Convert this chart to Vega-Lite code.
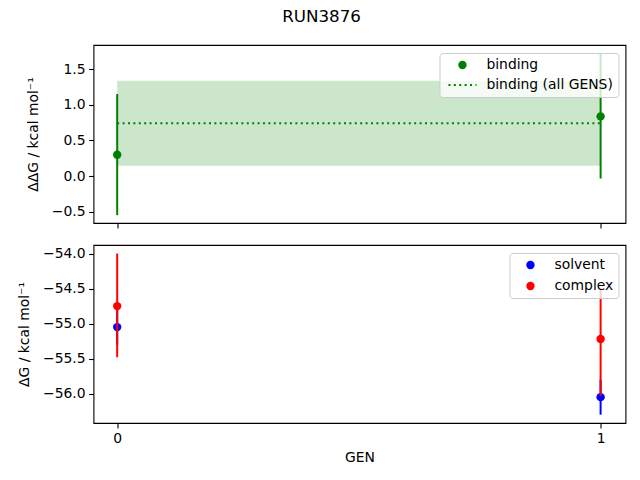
{
  "$schema": "https://vega.github.io/schema/vega-lite/v6.json",
  "padding": {"left": 16.5, "top": 8, "right": 9, "bottom": 5},
  "title": {"text": "RUN3876", "anchor": "middle", "frame": "bounds", "fontSize": 16.7, "fontWeight": "normal", "font": "DejaVu Sans", "color": "black", "offset": 19},
  "config": {
    "font": "DejaVu Sans",
    "view": {"stroke": "black", "strokeWidth": 1.1},
    "axis": {
      "grid": false, "domain": false, "tickColor": "black", "tickSize": 4.9, "tickWidth": 1.1,
      "labelFontSize": 13.9, "labelColor": "black", "labelPadding": 3.5,
      "titleFontSize": 13.9, "titleFontWeight": "normal", "titleColor": "black", "titlePadding": 11
    },
    "legend": {"labelFontSize": 13.9, "labelColor": "black", "labelFont": "DejaVu Sans"}
  },
  "spacing": 15,
  "resolve": {"scale": {"color": "independent"}, "legend": {"color": "independent"}},
  "vconcat": [
    {
      "width": 532,
      "height": 178,
      "encoding": {
        "x": {
          "field": "gen", "type": "quantitative",
          "scale": {"domain": [-0.049, 1.0515], "nice": false, "zero": false},
          "axis": {"values": [0, 1], "labels": false, "title": null}
        },
        "color": {
          "field": "series", "type": "nominal",
          "scale": {"domain": ["binding", "binding (all GENS)"], "range": ["green", "green"]},
          "legend": {
            "title": null, "orient": "top-right", "offset": 7.5,
            "fillColor": "rgba(255,255,255,0.8)", "strokeColor": "#cccccc", "cornerRadius": 3,
            "padding": 5, "rowPadding": 5, "symbolSize": 100, "symbolOffset": 11, "labelOffset": 17,
            "encode": {"symbols": {"update": {
              "shape": {"signal": "datum.value === 'binding' ? 'circle' : 'M-2.8,0H2.8'"},
              "size": {"signal": "datum.value === 'binding' ? 70 : 100"},
              "fill": {"signal": "datum.value === 'binding' ? 'green' : 'transparent'"},
              "stroke": {"value": "green"},
              "strokeWidth": {"signal": "datum.value === 'binding' ? 0 : 2"},
              "strokeDash": {"signal": "datum.value === 'binding' ? [1, 0] : [2, 3.4]"},
              "opacity": {"value": 1}
            }}}
          }
        }
      },
      "layer": [
        {
          "data": {"name": "overall"},
          "mark": {"type": "area", "opacity": 0.2},
          "encoding": {
            "y": {"field": "lo", "type": "quantitative"},
            "y2": {"field": "hi"}
          }
        },
        {
          "data": {"name": "overall"},
          "mark": {"type": "line", "strokeWidth": 2, "strokeDash": [2, 3.4]},
          "encoding": {
            "y": {"field": "mean", "type": "quantitative"}
          }
        },
        {
          "data": {"name": "binding"},
          "mark": {"type": "rule", "strokeWidth": 2},
          "encoding": {
            "y": {"field": "lo", "type": "quantitative"},
            "y2": {"field": "hi"}
          }
        },
        {
          "data": {"name": "binding"},
          "mark": {"type": "point", "filled": true, "size": 70, "opacity": 1},
          "encoding": {
            "y": {
              "field": "ddg", "type": "quantitative",
              "scale": {"domain": [-0.655, 1.836], "nice": false, "zero": false},
              "axis": {"values": [-0.5, 0, 0.5, 1.0, 1.5], "format": ".1f", "title": "ΔΔG / kcal mol⁻¹"}
            }
          }
        }
      ]
    },
    {
      "width": 532,
      "height": 178,
      "data": {"name": "phases"},
      "encoding": {
        "x": {
          "field": "gen", "type": "quantitative",
          "scale": {"domain": [-0.049, 1.0515], "nice": false, "zero": false},
          "axis": {"values": [0, 1], "format": "d", "title": "GEN", "titlePadding": 5}
        },
        "color": {
          "field": "phase", "type": "nominal",
          "scale": {"domain": ["solvent", "complex"], "range": ["blue", "red"]},
          "legend": {
            "title": null, "orient": "top-right", "offset": 7.5, "symbolType": "circle",
            "fillColor": "rgba(255,255,255,0.8)", "strokeColor": "#cccccc", "cornerRadius": 3,
            "padding": 5, "rowPadding": 6, "symbolSize": 70, "symbolOffset": 9, "labelOffset": 17,
            "symbolStrokeWidth": 0, "symbolOpacity": 1
          }
        }
      },
      "layer": [
        {
          "transform": [{"filter": "datum.phase === 'solvent'"}],
          "mark": {"type": "rule", "strokeWidth": 2},
          "encoding": {
            "y": {"field": "lo", "type": "quantitative"},
            "y2": {"field": "hi"}
          }
        },
        {
          "transform": [{"filter": "datum.phase === 'solvent'"}],
          "mark": {"type": "point", "filled": true, "size": 70, "opacity": 1},
          "encoding": {"y": {"field": "dg", "type": "quantitative"}}
        },
        {
          "transform": [{"filter": "datum.phase === 'complex'"}],
          "mark": {"type": "rule", "strokeWidth": 2},
          "encoding": {
            "y": {"field": "lo", "type": "quantitative"},
            "y2": {"field": "hi"}
          }
        },
        {
          "transform": [{"filter": "datum.phase === 'complex'"}],
          "mark": {"type": "point", "filled": true, "size": 70, "opacity": 1},
          "encoding": {
            "y": {
              "field": "dg", "type": "quantitative",
              "scale": {"domain": [-56.419, -53.878], "nice": false, "zero": false},
              "axis": {"values": [-56.0, -55.5, -55.0, -54.5, -54.0], "format": ".1f", "title": "ΔG / kcal mol⁻¹"}
            }
          }
        }
      ]
    }
  ],
  "datasets": {
    "overall": [
      {"gen": 0, "mean": 0.74, "lo": 0.145, "hi": 1.335, "series": "binding (all GENS)"},
      {"gen": 1, "mean": 0.74, "lo": 0.145, "hi": 1.335, "series": "binding (all GENS)"}
    ],
    "binding": [
      {"gen": 0, "ddg": 0.30, "lo": -0.545, "hi": 1.15, "series": "binding"},
      {"gen": 1, "ddg": 0.837, "lo": -0.033, "hi": 1.715, "series": "binding"}
    ],
    "phases": [
      {"gen": 0, "phase": "solvent", "dg": -55.05, "lo": -55.3, "hi": -54.8},
      {"gen": 1, "phase": "solvent", "dg": -56.05, "lo": -56.30, "hi": -55.80},
      {"gen": 0, "phase": "complex", "dg": -54.75, "lo": -55.48, "hi": -54.0},
      {"gen": 1, "phase": "complex", "dg": -55.22, "lo": -56.03, "hi": -54.52}
    ]
  }
}
